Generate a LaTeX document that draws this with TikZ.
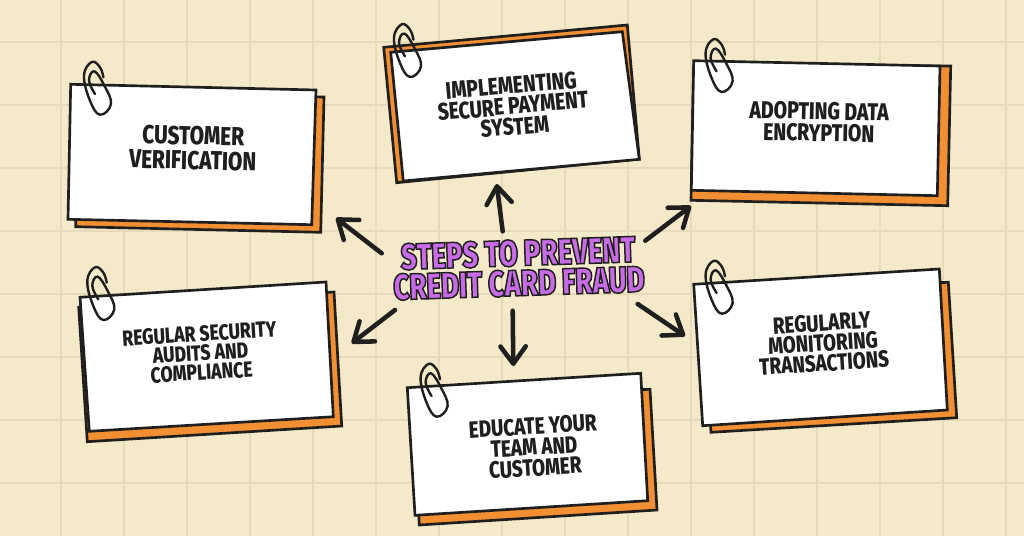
\documentclass[tikz,border=0pt]{standalone}
\usepackage{fontspec}
\usetikzlibrary{arrows.meta}
\newfontfamily\cardfont[FakeStretch=0.80]{Fira Sans ExtraBold}
\newfontfamily\titlefont[FakeStretch=0.75]{Fira Sans Black}
\definecolor{paper}{HTML}{F4E9C9}
\definecolor{gridline}{HTML}{E6DABA}
\definecolor{backing}{HTML}{F28F33}
\definecolor{ink}{HTML}{1F1F1F}
\definecolor{titlefill}{HTML}{C76BE6}
\tikzset{
  x=0.75pt, y=-0.75pt,
  gridrule/.style={gridline, line width=1.6pt},
  backcard/.style={draw=ink, fill=backing, line width=2pt, line join=miter},
  frontcard/.style={draw=ink, fill=white, line width=2pt, line join=miter},
  clipwire/.style={draw=ink, line width=1.8pt, line cap=round, line join=round},
  cardtext/.style={font=\cardfont\fontsize{#1}{#1}\selectfont, text=ink, align=center, inner sep=0pt},
  flow/.style={draw=ink, line width=3.4pt, line cap=round,
    -{Straight Barb[length=13pt, width=19pt, line width=3.4pt, round]}},
}
% Paper clip whose wire top sits at the given point
\newcommand{\drawclip}[2]{%
  \draw[clipwire, shift={(#1,#2)}] plot[smooth, tension=0.7] coordinates {
    (3.3,32) (-2.7,18.7) (2.7,9.3) (12.7,23.7) (19.3,42) (8.3,52.7)
    (-1.7,38.7) (-7.7,13.7) (0,0) (8.3,5.3) (11.7,15.3)};
}
% Purple letters with an ink outline
\newcommand{\outlined}[1]{\color{titlefill}\special{pdf:code 2 Tr 1.1 w 0.12 0.12 0.12 RG}#1\special{pdf:code 0 Tr}}
\begin{document}
\begin{tikzpicture}
\useasboundingbox (0,0) rectangle (1024,536);
\fill[paper] (0,0) rectangle (1024,536);
% Squared paper
\foreach \gx in {61,124,...,1006} \draw[gridrule] (\gx,0) -- (\gx,536);
\foreach \gy in {42,105,...,483} \draw[gridrule] (0,\gy) -- (1024,\gy);

% Customer verification
\draw[backcard] (78,92) -- (324,97) -- (320.7,232.3) -- (75.7,226.7) -- cycle;
\draw[frontcard] (70.7,84.3) -- (316,90) -- (311.7,224.7) -- (68,219.3) -- cycle;
% Secure payment
\draw[backcard] (383.7,47.3) -- (627.3,25) -- (639.3,159) -- (396.7,182.7) -- cycle;
\draw[frontcard] (390.7,52.3) -- (622.3,31.7) -- (639.3,159.3) -- (403.3,181) -- cycle;
% Data encryption
\draw[backcard] (693.7,66) -- (950.7,66) -- (947.7,205.7) -- (691,200.3) -- cycle;
\draw[frontcard] (693.7,60.7) -- (940,66) -- (937.3,195.7) -- (691.3,190.3) -- cycle;
% Monitoring transactions
\draw[backcard] (700,292) -- (948.3,282.3) -- (956.7,417.7) -- (711,432.3) -- cycle;
\draw[frontcard] (693.7,284.3) -- (939.3,269) -- (947.3,410) -- (702.7,425.7) -- cycle;
% Team education
\draw[backcard] (412,398) -- (650,389.3) -- (657,510) -- (419.3,525) -- cycle;
\draw[frontcard] (407.3,387.7) -- (640.7,373.3) -- (647.7,500.7) -- (415,515.3) -- cycle;
% Security audits
\draw[backcard] (78.7,307.3) -- (334,292) -- (341.7,426) -- (87.3,441.7) -- cycle;
\draw[frontcard] (80,297.3) -- (326,282) -- (333.3,416.7) -- (89.3,431.3) -- cycle;

% Paper clips
\drawclip{91.7}{62}
\drawclip{401.7}{24.3}
\drawclip{713.3}{39.3}
\drawclip{713.3}{261}
\drawclip{428.3}{364}
\drawclip{95}{267.3}

% Card captions
\node[cardtext=19.5, rotate=-1.3] (verify) at (193,148) {CUSTOMER\\[-1pt]VERIFICATION};
\node[cardtext=18, rotate=5] (payment) at (513,106) {IMPLEMENTING\\[-2.5pt]SECURE PAYMENT\\[-2.5pt]SYSTEM};
\node[cardtext=18.2, rotate=-1.2] (encrypt) at (819,122) {ADOPTING DATA\\[-2pt]ENCRYPTION};
\node[cardtext=17.6, rotate=3.6] (monitor) at (823,343) {REGULARLY\\[-2.5pt]MONITORING\\[-2.5pt]TRANSACTIONS};
\node[cardtext=17.7, rotate=3.5] (educate) at (534,447) {EDUCATE YOUR\\[-2pt]TEAM AND\\[-2pt]CUSTOMER};
\node[cardtext=16.5, rotate=3.5] (audits) at (200.5,353) {REGULAR SECURITY\\[-2pt]AUDITS AND\\[-2pt]COMPLIANCE};

% Central heading
\node[font=\titlefont\fontsize{27.5}{22.5}\selectfont, align=center, inner sep=0pt, rotate=1.9] (title) at (518.5,268)
  {\outlined{STEPS TO PREVENT}\\\outlined{CREDIT CARD FRAUD}};

% Arrow ends around the heading
\coordinate (nwS) at (381.7,253.3); \coordinate (nwT) at (336,218);
\coordinate (nS) at (502.7,231.3);  \coordinate (nT) at (496.7,184);
\coordinate (neS) at (645.3,240.7); \coordinate (neT) at (691,206);
\coordinate (seS) at (637.7,304);   \coordinate (seT) at (685,336);
\coordinate (sS) at (512.7,310.7);  \coordinate (sT) at (513.3,366);
\coordinate (swS) at (395,310);     \coordinate (swT) at (351.7,343.3);
\draw[flow] (nwS) -- (nwT);
\draw[flow] (nS) -- (nT);
\draw[flow] (neS) -- (neT);
\draw[flow] (seS) -- (seT);
\draw[flow] (sS) -- (sT);
\draw[flow] (swS) -- (swT);
\end{tikzpicture}
\end{document}
